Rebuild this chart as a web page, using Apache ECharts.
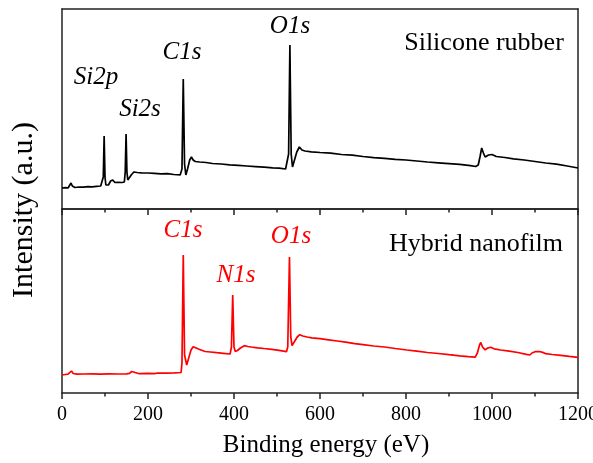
<!DOCTYPE html>
<html>
<head>
<meta charset="utf-8">
<script src="https://cdn.jsdelivr.net/npm/echarts@6/dist/echarts.min.js"></script>
<style>
  html, body { margin: 0; padding: 0; background: #fff; }
  #chart { width: 593px; height: 463px; }
</style>
</head>
<body>
<div id="chart"></div>
<script>
// XPS survey spectra: silicone rubber (top) and hybrid nanofilm (bottom)
const xTicks = [0, 200, 400, 600, 800, 1000, 1200];

const siliconeEnergy = [
  0, 8, 14, 18, 21, 24, 30, 40, 50, 60, 70, 80, 90, 94, 96, 98, 100, 102, 105, 108,
  113, 118, 123, 130, 140, 145, 147, 149, 151, 153, 156, 161, 167, 175, 185, 200, 215, 230, 245, 260,
  275, 279, 282, 285, 288, 292, 297, 301, 305, 310, 320, 335, 350, 370, 390, 410, 430, 450, 470, 490,
  505, 520, 524, 527, 530, 533, 536, 540, 546, 552, 558, 565, 580, 600, 625, 650, 675, 700, 725, 750,
  775, 800, 825, 850, 875, 900, 925, 950, 962, 968, 972, 976, 980, 984, 988, 992, 996, 1000, 1010, 1030,
  1050, 1075, 1100, 1125, 1150, 1175, 1200
];
const siliconeIntensity = [
  21, 21.3, 21, 23, 26, 23, 21.5, 22, 21.8, 22.3, 22.2, 22.6, 23, 23.5, 32, 73, 32, 24, 22, 24,
  28, 29, 26.5, 26.7, 26.5, 27, 37, 75, 37, 29, 30, 34, 37, 36.5, 36.2, 36, 35.7, 35.2, 35.3, 34.5,
  34.2, 40, 130, 45, 34, 40, 49, 52, 49, 47.5, 47, 46.5, 45.5, 45, 44.2, 43.6, 43, 42.4, 41.8, 41.2,
  40.8, 40, 42, 55, 164, 55, 42, 48, 57, 62, 59, 58, 57.2, 56.5, 55.8, 54.5, 53.8, 52.5, 51.4, 50.6,
  49.6, 49, 48, 47, 46.2, 45.4, 44.6, 43.4, 42.5, 44, 52, 61, 56, 52, 51, 54, 55, 54.5, 52.5, 51.5,
  50.2, 49, 47.5, 46, 44.8, 43, 41
];

const hybridEnergy = [
  0, 8, 14, 18, 22, 26, 35, 50, 70, 90, 110, 130, 150, 157, 162, 166, 180, 200, 215, 222,
  226, 230, 245, 262, 277, 279, 282, 285, 288, 290, 294, 300, 305, 312, 320, 333, 345, 360, 375, 391,
  394, 397, 400, 403, 408, 415, 424, 432, 440, 455, 470, 488, 505, 522, 525, 529, 532, 535, 540, 547,
  553, 560, 570, 581, 600, 620, 640, 660, 681, 700, 725, 750, 775, 802, 825, 850, 875, 900, 925, 945,
  961, 966, 971, 974, 978, 984, 990, 997, 1005, 1020, 1040, 1060, 1080, 1088, 1093, 1100, 1110, 1118, 1125, 1140,
  1160, 1180, 1200
];
const hybridIntensity = [
  18, 18.5, 18.8, 20.5, 22, 19.5, 18.8, 19, 19.2, 18.9, 19.1, 19, 19.2, 19.6, 21.5, 19.8, 19.3, 19.6, 19.4, 20,
  21.3, 19.8, 19.9, 20.1, 20.5, 30, 138, 38, 32, 28, 34, 43, 46.3, 45, 43.5, 41.5, 41, 40.3, 39.7, 39,
  46, 98, 46, 41.5, 42.5, 45, 47.3, 46.5, 46, 45.2, 44.5, 43.7, 42.6, 41.3, 46, 136, 56, 47.5, 51, 56,
  58.3, 57, 56, 55.2, 54.4, 53.2, 52, 50.8, 49.3, 48.4, 47, 46, 44.5, 43, 41.8, 40.5, 39.5, 38.3, 37.2, 36.4,
  35.8, 40, 48, 50.5, 46, 43.2, 45, 45.7, 44.2, 43, 41.8, 40.5, 38.6, 38, 40, 41.3, 41.5, 40.6, 39.3, 38.5,
  37.6, 36.6, 35.7
];

const zip = (xs, ys) => xs.map((x, i) => [x, ys[i]]);

const SERIF = '"Liberation Serif", "Times New Roman", serif';
const FRAME = { show: true, onZero: false, lineStyle: { color: '#222', width: 1.5 } };

function xAxisBottom(gridIndex, showLabels) {
  return {
    type: 'value', gridIndex, min: 0, max: 1200, interval: 200,
    position: 'bottom',
    axisLine: FRAME,
    axisTick: { show: true, inside: false, length: 6, lineStyle: { color: '#222', width: 1.5 } },
    minorTick: { show: true, splitNumber: 2, length: 3.5, lineStyle: { color: '#222', width: 1.5 } },
    splitLine: { show: false },
    axisLabel: {
      show: showLabels, margin: 12, color: '#000', fontFamily: SERIF, fontSize: 20,
      formatter: v => (xTicks.includes(v) ? String(v) : '')
    },
    name: showLabels ? 'Binding energy (eV)' : '',
    nameLocation: 'middle', nameGap: 40,
    nameTextStyle: { color: '#000', fontFamily: SERIF, fontSize: 25, padding: [0, 0, 0, 12] }
  };
}
function xAxisTop(gridIndex) {
  return {
    type: 'value', gridIndex, min: 0, max: 1200, position: 'top',
    axisLine: FRAME, axisTick: { show: false }, axisLabel: { show: false }, splitLine: { show: false }
  };
}
function yAxis(gridIndex, max, position) {
  return {
    type: 'value', gridIndex, min: 0, max, position,
    axisLine: FRAME, axisTick: { show: false }, axisLabel: { show: false }, splitLine: { show: false }
  };
}

function peakLabel(text, x, y, color) {
  return {
    type: 'text', x, y,
    style: {
      text, fill: color, font: 'italic 25px ' + SERIF,
      textAlign: 'center', textVerticalAlign: 'middle'
    }
  };
}
function sampleLabel(text, x, y) {
  return {
    type: 'text', x, y,
    style: {
      text, fill: '#000', font: '26px ' + SERIF,
      textAlign: 'center', textVerticalAlign: 'middle'
    }
  };
}

const chart = echarts.init(document.getElementById('chart'), null, { renderer: 'canvas' });
chart.setOption({
  animation: false,
  backgroundColor: '#fff',
  grid: [
    { left: 62, right: 15, top: 9, height: 200, containLabel: false, outerBoundsMode: 'none' },
    { left: 62, right: 15, top: 209, height: 184, containLabel: false, outerBoundsMode: 'none' }
  ],
  xAxis: [xAxisBottom(0, false), xAxisTop(0), xAxisBottom(1, true), xAxisTop(1)],
  yAxis: [yAxis(0, 200, 'left'), yAxis(0, 200, 'right'), yAxis(1, 184, 'left'), yAxis(1, 184, 'right')],
  series: [
    {
      name: 'Silicone rubber', type: 'line', xAxisIndex: 0, yAxisIndex: 0,
      data: zip(siliconeEnergy, siliconeIntensity), showSymbol: false,
      lineStyle: { color: '#000', width: 1.7 }
    },
    {
      name: 'Hybrid nanofilm', type: 'line', xAxisIndex: 2, yAxisIndex: 2,
      data: zip(hybridEnergy, hybridIntensity), showSymbol: false,
      lineStyle: { color: '#ff0000', width: 1.7 }
    }
  ],
  graphic: [
    {
      type: 'text', x: 24, y: 210, rotation: Math.PI / 2,
      style: {
        text: 'Intensity (a.u.)', fill: '#000', font: '30px ' + SERIF,
        textAlign: 'center', textVerticalAlign: 'middle'
      }
    },
    peakLabel('Si2p', 96, 77, '#000'),
    peakLabel('Si2s', 140, 109, '#000'),
    peakLabel('C1s', 182, 52, '#000'),
    peakLabel('O1s', 290, 26, '#000'),
    sampleLabel('Silicone rubber', 484, 43),
    peakLabel('C1s', 183, 230, '#ff0000'),
    peakLabel('N1s', 236, 275, '#ff0000'),
    peakLabel('O1s', 291, 236, '#ff0000'),
    sampleLabel('Hybrid nanofilm', 476, 244)
  ]
});
</script>
</body>
</html>
